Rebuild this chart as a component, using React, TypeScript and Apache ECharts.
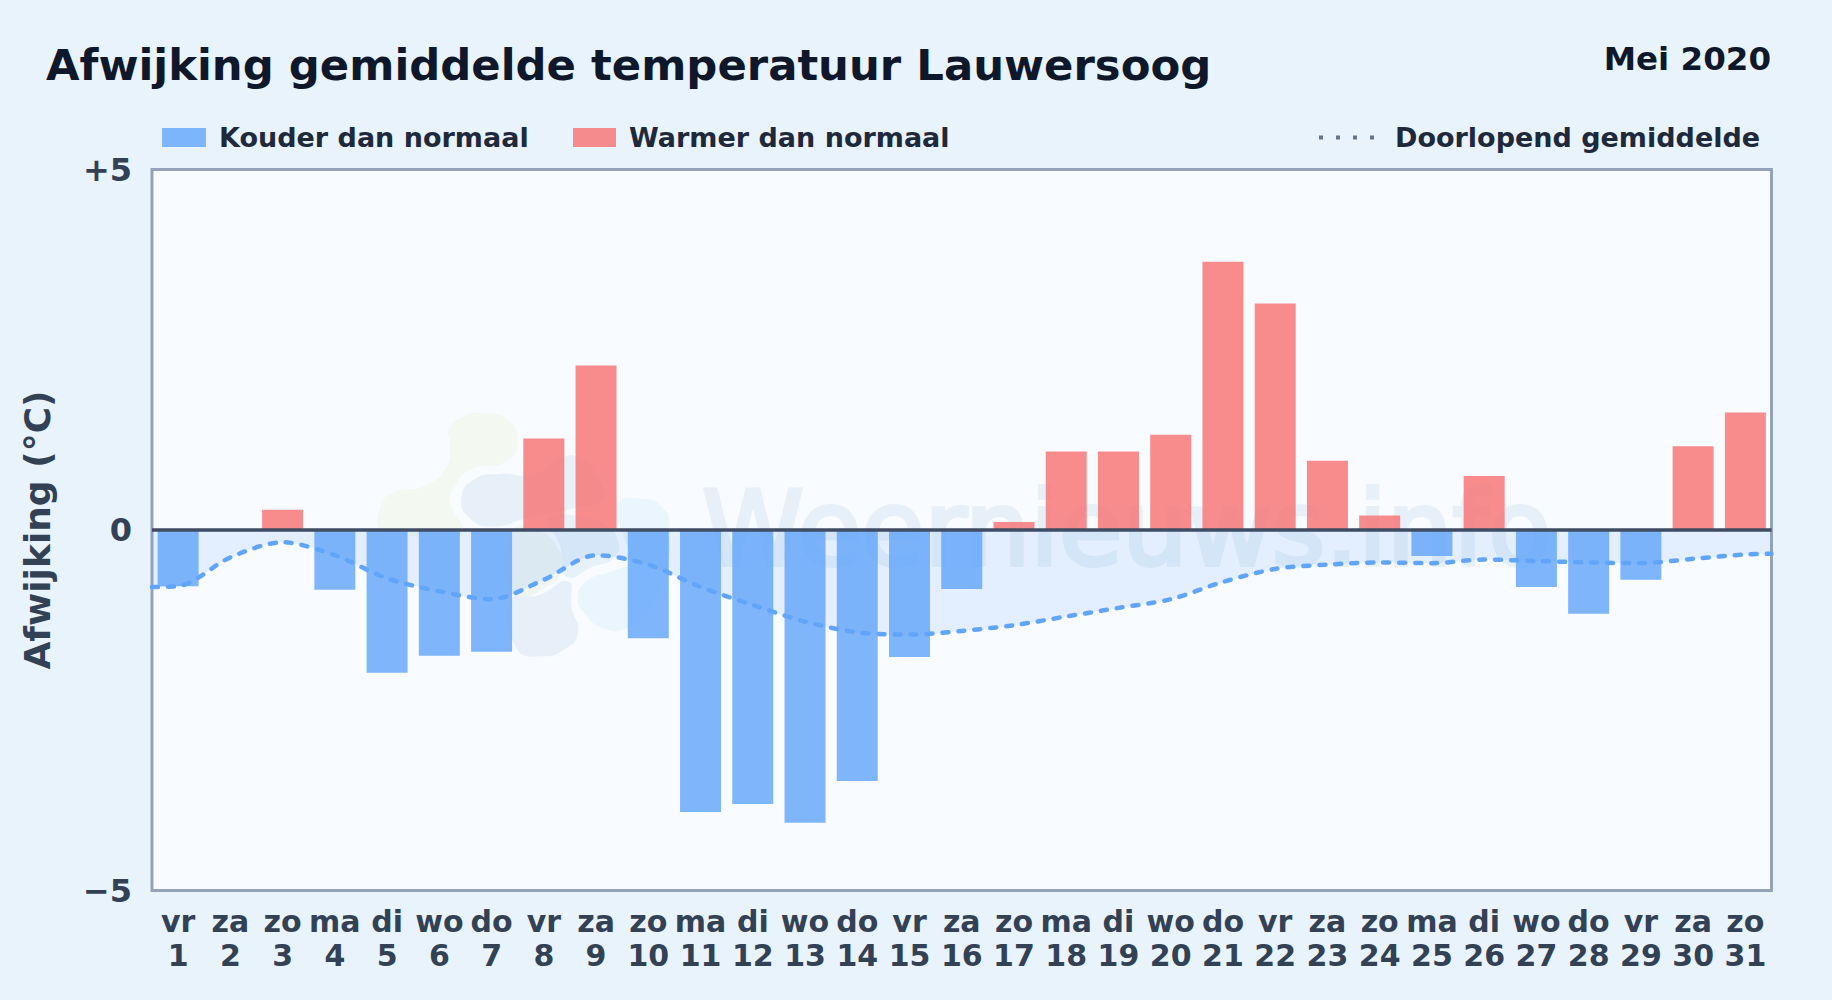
import React, { useEffect, useRef } from "react";
import * as echarts from "echarts";

const weekdays = ["vr","za","zo","ma","di","wo","do","vr","za","zo","ma","di","wo","do","vr","za","zo","ma","di","wo","do","vr","za","zo","ma","di","wo","do","vr","za","zo"];
const dayNumbers = ["1","2","3","4","5","6","7","8","9","10","11","12","13","14","15","16","17","18","19","20","21","22","23","24","25","26","27","28","29","30","31"];
const deviation = [-0.78,0,0.28,-0.83,-1.98,-1.745,-1.69,1.27,2.28,-1.5,-3.91,-3.8,-4.06,-3.48,-1.76,-0.82,0.11,1.09,1.09,1.32,3.72,3.14,0.96,0.2,-0.36,0.75,-0.79,-1.16,-0.69,1.16,1.63];
const runningMean = [-0.78,-0.38,-0.17,-0.35,-0.67,-0.85,-0.96,-0.69,-0.35,-0.48,-0.79,-1.04,-1.27,-1.42,-1.45,-1.4,-1.32,-1.2,-1.08,-0.96,-0.72,-0.54,-0.48,-0.45,-0.46,-0.41,-0.43,-0.45,-0.46,-0.4,-0.34];
const meanAtLeftEdge = -0.79;
const meanAtRightEdge = -0.33;
const yTicks: Record<string, string> = { "5": "+5", "0": "0", "-5": "\u22125" };

const FONT = "DejaVu Sans";
const colder = deviation.map((v) => (v < 0 ? v : null));
const warmer = deviation.map((v) => (v > 0 ? v : null));
const meanLine = [[0.5, meanAtLeftEdge], ...runningMean.map((v, i) => [i + 1, v]), [31.5, meanAtRightEdge]];

const blob = (fill: string, points: number[][]) => ({
  type: "polygon",
  silent: true,
  shape: { points, smooth: 0.55 },
  style: { fill },
});

export default function App() {
  const ref = useRef<HTMLDivElement>(null);
  useEffect(() => {
    document.body.style.margin = "0";
    const chart = echarts.init(ref.current!, null, { renderer: "svg" });
    const legendText = { fontFamily: FONT, fontWeight: "bold", fontSize: 27, color: "#1e293b", padding: [0, 0, 0, 8] };
    chart.setOption({
      animation: false,
      backgroundColor: "#e8f3fc",
      textStyle: { fontFamily: FONT },
      title: [
        { text: "Afwijking gemiddelde temperatuur Lauwersoog", left: 46, top: 43, padding: 0, textStyle: { fontFamily: FONT, fontWeight: "bold", fontSize: 43.35, color: "#0f172a" } },
        { text: "Mei 2020", right: 61, top: 42, padding: 0, textStyle: { fontFamily: FONT, fontWeight: "bold", fontSize: 32.5, color: "#0f172a" } },
      ],
      legend: [
        { data: [{ name: "Kouder dan normaal", icon: "rect" }], left: 162, top: 124, padding: 0, itemWidth: 44, itemHeight: 19, textStyle: legendText, selectedMode: false },
        { data: [{ name: "Warmer dan normaal", icon: "rect" }], left: 573, top: 124, padding: 0, itemWidth: 43, itemHeight: 19, textStyle: legendText, selectedMode: false },
        {
          data: [{ name: "Doorlopend gemiddelde", lineStyle: { color: "#64748b", width: 4, type: [4, 13], cap: "butt" }, itemStyle: { color: "transparent", borderColor: "transparent", opacity: 0 } }],
          left: 1317, top: 124, padding: 0, itemWidth: 57, itemHeight: 19, textStyle: { ...legendText, padding: [0, 0, 0, 14] }, selectedMode: false,
        },
      ],
      grid: { left: 152, top: 169.5, width: 1619.5, height: 721, show: true, backgroundColor: "#f8fbff", borderColor: "#94a3b8", borderWidth: 3, containLabel: false },
      xAxis: [
        {
          type: "category",
          data: dayNumbers,
          axisLine: { show: false },
          axisTick: { show: false },
          axisLabel: {
            interval: 0, margin: 14, fontFamily: FONT, fontWeight: "bold", fontSize: 30, lineHeight: 34, color: "#334155",
            formatter: (_: string, i: number) => `${weekdays[i]}\n${dayNumbers[i]}`,
          },
        },
        { type: "value", min: 0.5, max: 31.5, show: false },
      ],
      yAxis: {
        type: "value", min: -5, max: 5, interval: 5,
        name: "Afwijking (\u00b0C)", nameLocation: "middle", nameGap: 97,
        nameTextStyle: { fontFamily: FONT, fontWeight: "bold", fontSize: 36, color: "#334155" },
        axisLine: { show: false }, axisTick: { show: false }, splitLine: { show: false },
        axisLabel: { margin: 20, fontFamily: FONT, fontWeight: "bold", fontSize: 32, color: "#334155", formatter: (v: number) => yTicks[String(v)] },
      },
      graphic: [
        {
          type: "group", x: 360, y: 395, scaleX: 1 / 3, scaleY: 1 / 3, silent: true, z: 1,
          children: [
            blob("#f3f9f1", [[370,55],[445,75],[472,140],[440,200],[330,225],[285,275],[270,320],[300,405],[70,405],[60,340],[95,295],[200,270],[262,210],[270,150],[268,100],[310,65]]),
            blob("#e7f0f9", [[305,310],[340,255],[420,237],[520,240],[600,190],[665,190],[710,240],[730,310],[640,340],[500,370],[400,395],[330,370]]),
            blob("#e7f1f9", [[565,370],[640,362],[730,385],[775,440],[760,490],[700,515],[620,545],[600,450]]),
            blob("#eef5f2", [[455,412],[540,410],[600,470],[605,520],[570,570],[460,600]]),
            blob("#e7f0f8", [[450,622],[540,600],[625,560],[635,640],[655,710],[620,760],[540,785],[470,760]]),
            blob("#eaf5fe", [[655,610],[680,560],[770,525],[810,500],[790,420],[770,330],[850,312],[910,340],[930,400],[920,520],[870,640],[800,700],[730,700],[670,650]]),
          ],
        },
        {
          type: "text", x: 702, y: 529, silent: true, z: 1,
          style: { text: "Weernieuws.info", fontFamily: FONT, fontSize: 103, fill: "#e7f0f8", stroke: "#e7f0f8", lineWidth: 4, verticalAlign: "middle" },
        },
      ],
      series: [
        {
          name: "Kouder dan normaal", type: "bar", data: colder, barWidth: 41, barGap: "-100%",
          itemStyle: { color: "rgba(96,165,250,0.8)" }, z: 3,
          markLine: {
            silent: true, symbol: "none", z: 6, precision: 2,
            label: { show: false }, emphasis: { disabled: true },
            lineStyle: { color: "#3f4d64", width: 3.5, type: "solid" },
            data: [{ yAxis: 0 }],
          },
        },
        {
          name: "Warmer dan normaal", type: "bar", data: warmer, barWidth: 41, barGap: "-100%",
          itemStyle: { color: "rgba(248,113,113,0.8)" }, z: 3,
        },
        {
          name: "Doorlopend gemiddelde", type: "line", xAxisIndex: 1, data: meanLine, smooth: 0.3, symbol: "none", z: 5,
          lineStyle: { color: "#60a5fa", width: 4.5, type: [6, 10], cap: "round" },
          areaStyle: { color: "rgba(96,165,250,0.2)", origin: 0 },
        },
      ],
    });
    return () => chart.dispose();
  }, []);
  return <div ref={ref} style={{ position: "absolute", left: 0, top: 0, width: 1832, height: 1000 }} />;
}
